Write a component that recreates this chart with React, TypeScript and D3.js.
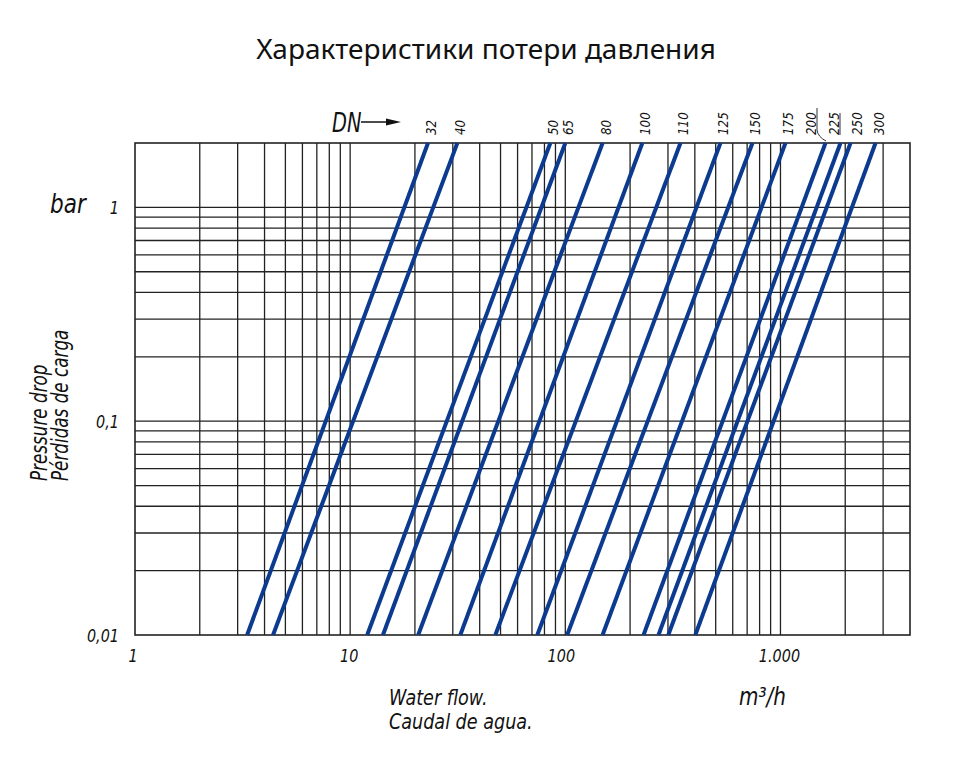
import React from "react";
import * as d3 from "d3";

const dnLabels = ["32", "40", "50", "65", "80", "100", "110", "125", "150", "175", "200", "225", "250", "300"];
const flowAtLow = [3.32, 4.38, 12.0, 14.2, 20.7, 32.5, 47.3, 74.1, 102, 149, 231, 271, 301, 402];
const flowAtHigh = [23.0, 31.5, 85.2, 100, 149, 228, 343, 526, 741, 1055, 1619, 1901, 2117, 2766];
const pressureRange = [0.01, 2];
const xTickValues = [1, 10, 100, 1000];
const xTickLabels = ["1", "10", "100", "1.000"];
const yTickValues = [1, 0.1, 0.01];
const yTickLabels = ["1", "0,1", "0,01"];

const W = 960;
const H = 768;
const left = 135, right = 910, top = 143, bottom = 635;
const FONT = "'DejaVu Sans', sans-serif";
const BLUE = "#0b3a8e";
const SX = 0.8;

function NText(props: {
  x: number; y: number; size: number; rotate?: number; anchor?: "start" | "middle" | "end"; sx?: number; children: React.ReactNode;
}) {
  const { x, y, size, rotate = 0, anchor = "start", sx = SX } = props;
  return (
    <text
      transform={`translate(${x},${y}) rotate(${rotate}) scale(${sx},1)`}
      fontFamily={FONT}
      fontStyle="italic"
      fontSize={size}
      textAnchor={anchor}
      fill="#111"
    >
      {props.children}
    </text>
  );
}

export default function App() {
  const x = d3.scaleLog().domain([1, 4000]).range([left, right]);
  const y = d3.scaleLog().domain([0.01, 2]).range([bottom, top]);

  const xGrid: number[] = [];
  for (let dec = 1; dec <= 1000; dec *= 10) {
    for (let k = 1; k <= 9; k++) {
      const v = dec * k;
      if (v > 1 && v < 4000) xGrid.push(v);
    }
  }
  const yGrid: number[] = [];
  for (let dec = 0.01; dec <= 1.0001; dec *= 10) {
    for (let k = 1; k <= 9; k++) {
      const v = dec * k;
      if (v > 0.0100001 && v < 1.99) yGrid.push(v);
    }
  }

  const line = d3
    .line<[number, number]>()
    .x((d) => x(d[0]))
    .y((d) => y(d[1]));

  return (
    <svg width={W} height={H} viewBox={`0 0 ${W} ${H}`} style={{ display: "block", position: "absolute", left: 0, top: 0, background: "#fff" }}>
      <rect x={0} y={0} width={W} height={H} fill="#fff" />
      <text x={486} y={59} textAnchor="middle" fontFamily="'Noto Sans', 'Open Sans', sans-serif" fontSize={28} fill="#111">
        Характеристики потери давления
      </text>

      {/* grid */}
      <g stroke="#222" strokeWidth={1.3}>
        {xGrid.map((v, i) => (
          <line key={"xg" + i} x1={x(v)} x2={x(v)} y1={top} y2={bottom} />
        ))}
        {yGrid.map((v, i) => (
          <line key={"yg" + i} x1={left} x2={right} y1={y(v)} y2={y(v)} />
        ))}
      </g>
      <rect x={left} y={top} width={right - left} height={bottom - top} fill="none" stroke="#222" strokeWidth={1.6} />

      {/* DN curves */}
      <g stroke={BLUE} strokeWidth={4} fill="none" strokeLinecap="butt">
        {dnLabels.map((dn, i) => (
          <path key={"l" + dn} d={line([[flowAtLow[i], pressureRange[0]], [flowAtHigh[i], pressureRange[1]]]) || ""} />
        ))}
      </g>

      {/* DN labels */}
      {dnLabels.map((dn, i) => {
        const px = x(flowAtHigh[i]) + (i === 10 ? -14 : i === 11 ? -6 : i === 12 ? 6 : 3);
        return (
          <NText key={"t" + dn} x={px + 5} y={135} size={14} rotate={-90} sx={0.85}>
            {dn}
          </NText>
        );
      })}
      <path d="M817,108 L817,130 Q818,137 826,141" stroke="#333" strokeWidth={1} fill="none" />
      <line x1={840} x2={840} y1={113} y2={135} stroke="#333" strokeWidth={1} />

      {/* DN arrow */}
      <NText x={332} y={132} size={27} sx={0.72}>DN</NText>
      <line x1={361} x2={390} y1={122} y2={122} stroke="#111" strokeWidth={1.5} />
      <path d="M386,118.5 L401,122 L386,125.5 Z" fill="#111" />

      {/* axes labels */}
      <NText x={50} y={213} size={27}>bar</NText>
      {yTickValues.map((v, i) => (
        <NText key={"yt" + i} x={119} y={y(v) + 7} size={18} anchor="end">{yTickLabels[i]}</NText>
      ))}
      {xTickValues.map((v, i) => (
        <NText key={"xt" + i} x={i === 0 ? 133 : x(v) - (i === 2 ? 4 : 1)} y={662} size={18} anchor="middle">{xTickLabels[i]}</NText>
      ))}
      <NText x={47} y={481} size={23} rotate={-90} sx={0.73}>Pressure drop</NText>
      <NText x={68} y={481} size={23} rotate={-90} sx={0.73}>Pérdidas de carga</NText>
      <NText x={389} y={705} size={22}>Water flow.</NText>
      <NText x={389} y={729} size={22}>Caudal de agua.</NText>
      <NText x={739} y={705} size={25}>m³/h</NText>
    </svg>
  );
}
